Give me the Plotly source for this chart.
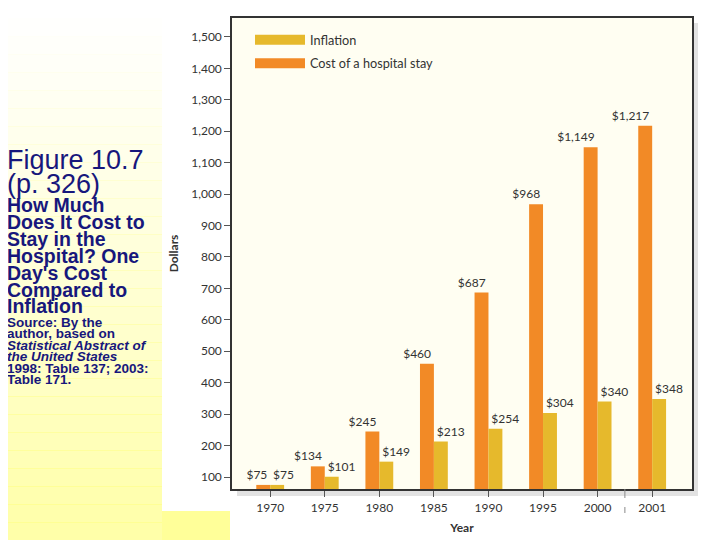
import plotly.graph_objects as go

# Hospital stay vs inflation (Figure 10.7)
years = ["1970", "1975", "1980", "1985", "1990", "1995", "2000", "2001"]
hospital_cost = [75, 134, 245, 460, 687, 968, 1149, 1217]
inflation = [75, 101, 149, 213, 254, 304, 340, 348]
y_ticks = list(range(100, 1600, 100))

ORANGE = "#F28A26"
YELLOW = "#E6B92C"
NAVY = "#17177C"
INK = "#333333"

# the page has an 8px body margin, so the figure is shifted by 8px
OFF = 8
W, H = 720 - OFF, 540 - OFF
L, R, T = 232 - OFF, 28, 18 - OFF
B = H - (489 - OFF)
PW, PH = W - L - R, H - T - B


def px_x(x):
    # window pixel -> paper coordinate
    return (x - OFF - L) / PW


def px_y(y):
    return (H - B - (y - OFF)) / PH


fig = go.Figure()
fig.add_trace(go.Bar(x=years, y=hospital_cost, name="Cost of a hospital stay",
                     marker_color=ORANGE, showlegend=False))
fig.add_trace(go.Bar(x=years, y=inflation, name="Inflation",
                     marker_color=YELLOW, showlegend=False))
fig.update_traces(marker_line_width=0)

# value labels, sitting at the outer side of each pair
lab_font = dict(size=12, color=INK, family="Lato")
fig.add_trace(go.Scatter(x=years, y=hospital_cost, mode="markers+text", showlegend=False,
                         text=["$" + format(v, ",") for v in hospital_cost],
                         textposition="top left", cliponaxis=False,
                         marker=dict(size=3, opacity=0), textfont=lab_font,
                         hoverinfo="skip"))
fig.add_trace(go.Scatter(x=years, y=inflation, mode="markers+text", showlegend=False,
                         text=["$" + format(v, ",") for v in inflation],
                         textposition="top right", cliponaxis=False,
                         marker=dict(size=3, opacity=0), textfont=lab_font,
                         hoverinfo="skip"))

# wide legend swatches like the book figure
fig.add_trace(go.Scatter(x=[None], y=[None], mode="lines", name="Inflation",
                         line=dict(color=YELLOW, width=10), legendgroup="a"))
fig.add_trace(go.Scatter(x=[None], y=[None], mode="lines", name="Cost of a hospital stay",
                         line=dict(color=ORANGE, width=10), legendgroup="b"))

# slide background: yellow wash on the left
shapes = []
bands = 30
for i in range(bands):
    y0 = i * (540 / bands)
    y1 = y0 + 540 / bands + 1
    a = 0.75 * (i / (bands - 1)) ** 1.1
    shapes.append(dict(type="rect", xref="paper", yref="paper", layer="below",
                       x0=px_x(0), x1=px_x(162), y0=px_y(y1), y1=px_y(y0),
                       fillcolor="#FFFF8C", opacity=a, line_width=0))
shapes.append(dict(type="rect", xref="paper", yref="paper", layer="below",
                   x0=px_x(162), x1=px_x(230), y0=px_y(541), y1=px_y(511),
                   fillcolor="#FFFF99", line_width=0))
# soft shadow right and below the chart frame
shapes.append(dict(type="rect", xref="paper", yref="paper", layer="below",
                   x0=1, x1=px_x(698), y0=px_y(496), y1=px_y(23),
                   fillcolor="#CFCFCF", opacity=0.6, line_width=0))
shapes.append(dict(type="rect", xref="paper", yref="paper", layer="below",
                   x0=px_x(237), x1=1, y0=px_y(496), y1=0,
                   fillcolor="#CFCFCF", opacity=0.6, line_width=0))
# dashed break between 2000 and 2001
shapes.append(dict(type="line", xref="x", yref="paper", x0=6.5, x1=6.5,
                   y0=0, y1=px_y(513), line=dict(color="#888888", width=1, dash="dash")))

# slide text on the left
annots = []
title_lines = [("Figure 10.7", 160), ("(p. 326)", 184)]
for txt, yc in title_lines:
    annots.append(dict(text=txt, x=px_x(5), y=px_y(yc), font=dict(size=27, color=NAVY)))
head_lines = [("How Much", 205), ("Does It Cost to", 222), ("Stay in the", 239),
              ("Hospital? One", 256), ("Day's Cost", 273), ("Compared to", 290),
              ("Inflation", 306)]
for txt, yc in head_lines:
    annots.append(dict(text="<b>" + txt + "</b>", x=px_x(5), y=px_y(yc),
                       font=dict(size=19.5, color=NAVY)))
src_lines = [("Source: By the", 322), ("author, based on", 333),
             ("<i>Statistical Abstract of</i>", 345), ("<i>the United States</i>", 356),
             ("1998: Table 137; 2003:", 368), ("Table 171.", 379)]
for txt, yc in src_lines:
    annots.append(dict(text="<b>" + txt + "</b>", x=px_x(5), y=px_y(yc),
                       font=dict(size=13.5, color=NAVY)))
for a in annots:
    a.update(xref="paper", yref="paper", xanchor="left", yanchor="middle",
             showarrow=False)
    a["font"]["family"] = "Liberation Sans"

fig.update_layout(
    width=W, height=H,
    margin=dict(l=L, r=R, t=T, b=B),
    paper_bgcolor="white",
    plot_bgcolor="#FFFEF2",
    barmode="group", bargap=0.49, bargroupgap=0,
    font=dict(family="Lato", size=12, color=INK),
    shapes=shapes, annotations=annots,
    legend=dict(x=px_x(250), y=px_y(25), xanchor="left", yanchor="top",
                bgcolor="rgba(0,0,0,0)", itemwidth=50, traceorder="grouped",
                tracegroupgap=4, font=dict(size=12.7, color=INK)),
    showlegend=True,
)
fig.update_xaxes(type="category", range=[-0.7, 7.73], showline=True, mirror=True,
                 linecolor="#333333", linewidth=1.5, ticks="outside", ticklen=6,
                 tickcolor="#555555", showgrid=False, ticklabelstandoff=1,
                 automargin=False,
                 title=dict(text="<b>Year</b>", standoff=9, font=dict(size=12)))
fig.update_yaxes(range=[62, 1560], tickvals=y_ticks, tickformat=",", showline=True,
                 mirror=True, linecolor="#333333", linewidth=1.5, ticks="outside",
                 ticklen=6, tickcolor="#555555", showgrid=False, zeroline=False,
                 automargin=False,
                 title=dict(text="<b>Dollars</b>", standoff=10, font=dict(size=12)))

fig.write_html("out.html")
